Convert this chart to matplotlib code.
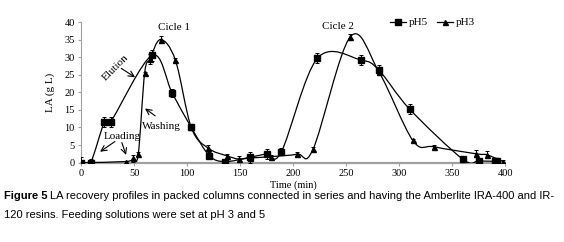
import numpy as np
import matplotlib
matplotlib.use("Agg")
import matplotlib.pyplot as plt
from matplotlib.path import Path
from matplotlib.patches import PathPatch

plt.rcParams['font.family'] = ['Liberation Serif', 'DejaVu Serif']

# ---- data ----
ph5_t = [0, 9, 22, 28, 67, 86, 104, 121, 136, 159, 175, 189, 223, 264, 281, 310, 360, 375, 390, 392]
ph5_la = [0, 0, 11.5, 11.6, 30.5, 19.8, 10.0, 2.0, 0.3, 1.5, 2.5, 3.1, 29.7, 29.2, 26.3, 15.2, 1.0, 0.5, 0.4, 0.4]
ph5_err = [1.5, 1.0, 1.5, 1.5, 1.5, 1.2, 0.5, 1.0, 0.5, 1.5, 1.5, 1.0, 1.5, 1.5, 1.5, 1.5, 0.8, 0.3, 0.5, 0.3]

ph3_t = [0, 42, 49, 54, 60, 65, 75, 89, 104, 120, 138, 149, 159, 179, 204, 219, 254, 281, 313, 333, 373, 383, 398]
ph3_la = [0, 0.3, 1.2, 2.4, 25.4, 29.5, 35.0, 29.2, 10.0, 4.1, 1.9, 1.0, 1.3, 1.7, 2.4, 3.9, 35.8, 25.8, 6.3, 4.5, 2.5, 2.2, 0.3]
ph3_err = [0.5, 0.3, 1.0, 0.5, 0.5, 1.5, 1.0, 0.5, 0.5, 0.8, 0.5, 0.8, 0.5, 0.5, 0.5, 0.5, 0.8, 1.0, 0.5, 0.5, 1.0, 1.0, 0.5]

x_ticks = list(range(0, 401, 50))
y_ticks = list(range(0, 41, 5))


def smooth_path(xs, ys):
    # Excel-like smoothed line: cubic Bezier segments through the points
    p = np.column_stack([xs, ys]).astype(float)
    n = len(p)
    verts = [p[0]]
    codes = [Path.MOVETO]
    for i in range(n - 1):
        p0 = p[i - 1] if i > 0 else p[i]
        p3 = p[i + 2] if i + 2 < n else p[i + 1]
        c1 = p[i] + (p[i + 1] - p0) / 6.0
        c2 = p[i + 1] - (p3 - p[i]) / 6.0
        verts += [c1, c2, p[i + 1]]
        codes += [Path.CURVE4] * 3
    return Path(verts, codes)


fig = plt.figure(figsize=(5.64, 2.42), dpi=100)
ax = fig.add_axes([0.1436, 0.328, 0.752, 0.581])

for t, la, err in [(ph5_t, ph5_la, ph5_err), (ph3_t, ph3_la, ph3_err)]:
    ax.add_patch(PathPatch(smooth_path(t, la), fill=False, edgecolor='black', lw=0.9, zorder=3))
    ax.errorbar(t, la, yerr=err, fmt='none', ecolor='black', elinewidth=0.7, capsize=1.5, capthick=0.7, zorder=4)

ax.plot(ph5_t, ph5_la, 's', color='black', ms=5, zorder=5)
ax.plot(ph3_t, ph3_la, '^', color='black', ms=3.6, zorder=5)

# legend proxies with line segment
l5, = ax.plot([], [], '-s', color='black', ms=5, lw=0.9)
l3, = ax.plot([], [], '-^', color='black', ms=3.6, lw=0.9)
ax.legend([l5, l3], ['pH5', 'pH3'], ncol=2, frameon=False, fontsize=8,
          loc='lower right', bbox_to_anchor=(0.94, 0.93), handlelength=1.4,
          handletextpad=0.3, columnspacing=0.8, borderaxespad=0)

ax.set_xlim(0, 400)
ax.set_ylim(0, 40)
ax.set_xticks(x_ticks)
ax.set_yticks(y_ticks)
ax.tick_params(labelsize=7.5, length=2.5, width=0.8, color='#a0a0a0', pad=2)
for s in ['top', 'right']:
    ax.spines[s].set_visible(False)
ax.spines['left'].set_color('#a0a0a0')
ax.spines['bottom'].set_color('#a0a0a0')
ax.spines['bottom'].set_linewidth(1.6)
ax.spines['left'].set_linewidth(0.8)
ax.set_xlabel('Time (min)', fontsize=7.5, labelpad=2)
ax.set_ylabel('LA (g L)', fontsize=8, labelpad=7)

# annotations
ax.text(88, 38.3, 'Cicle 1', fontsize=8, ha='center', va='center')
ax.text(242, 38.6, 'Cicle 2', fontsize=8, ha='center', va='center')
ax.text(33, 27, 'Elution', fontsize=8, ha='center', va='center', rotation=45)
ax.text(76, 10.2, 'Washing', fontsize=8, ha='center', va='center')
ax.text(39, 7.4, 'Loading', fontsize=8, ha='center', va='center')
arrow = dict(arrowstyle='->', color='black', lw=0.8, shrinkA=0, shrinkB=0)
ax.annotate('', xy=(51, 24.3), xytext=(38, 26.8), arrowprops=arrow)
ax.annotate('', xy=(60.4, 15.4), xytext=(70, 13.3), arrowprops=arrow)
ax.annotate('', xy=(18, 3.1), xytext=(32, 6.0), arrowprops=arrow)
ax.annotate('', xy=(42.5, 2.2), xytext=(38.5, 5.7), arrowprops=arrow)

# caption
cap_fs = 8.05
cap1 = fig.text(0.007, 1 - 196 / 242, 'Figure 5', fontsize=cap_fs, fontweight='bold',
                family='Liberation Sans', va='center')
fig.canvas.draw()
bb = cap1.get_window_extent()
fig.text((bb.x1 + 3) / fig.bbox.width, 1 - 196 / 242,
         'LA recovery profiles in packed columns connected in series and having the Amberlite IRA-400 and IR-',
         fontsize=cap_fs, family='Liberation Sans', va='center')
fig.text(0.007, 1 - 215 / 242, '120 resins. Feeding solutions were set at pH 3 and 5',
         fontsize=cap_fs, family='Liberation Sans', va='center')

fig.savefig('out.png', dpi=100)
